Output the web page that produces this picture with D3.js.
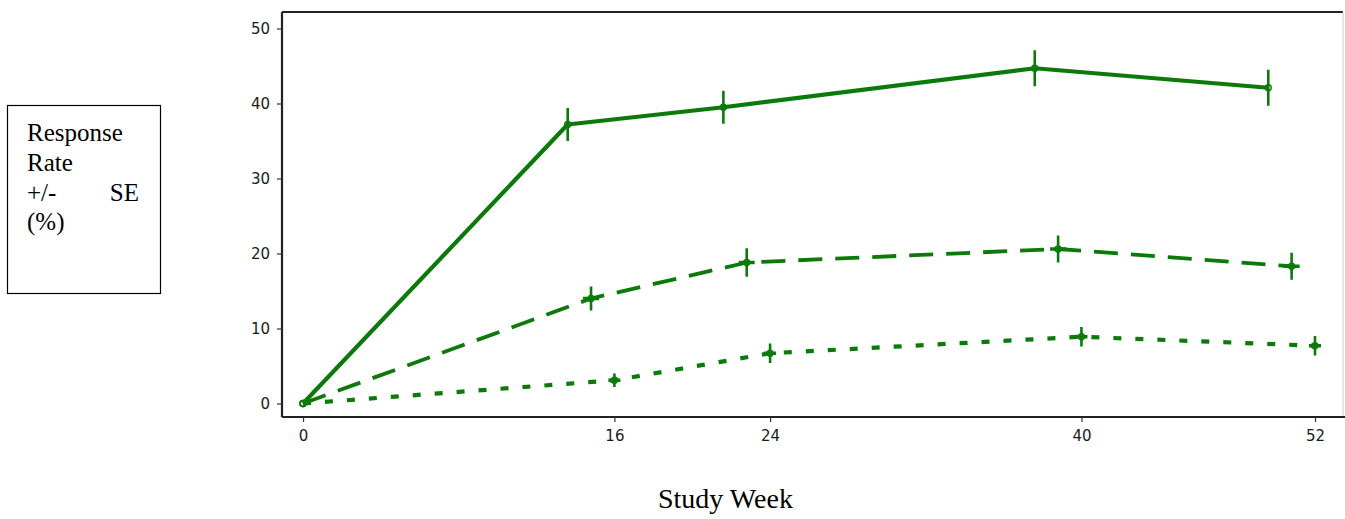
<!DOCTYPE html>
<html>
<head>
<meta charset="utf-8">
<script src="https://cdn.jsdelivr.net/npm/d3@7/dist/d3.min.js"></script>
<style>
  html, body { margin: 0; padding: 0; background: #fff; }
  svg { display: block; }
</style>
</head>
<body>
<svg id="chart" width="1345" height="519"></svg>
<script>
// ---- data ----
const xTicks = [0, 16, 24, 40, 52];
const yTicks = [0, 10, 20, 30, 40, 50];

const solidWeeks  = [0, 13.6, 21.6, 37.6, 49.6];
const solidRate   = [0, 37.2, 39.5, 44.7, 42.1];
const solidSE     = [0, 2.2, 2.2, 2.4, 2.4];

const dashedWeeks = [0, 14.8, 22.8, 38.8, 50.8];
const dashedRate  = [0, 14.0, 18.8, 20.6, 18.3];
const dashedSE    = [0, 1.6, 1.9, 1.8, 1.8];

const dottedWeeks = [0, 16, 24, 40, 52];
const dottedRate  = [0, 3.1, 6.7, 8.9, 7.7];
const dottedSE    = [0, 0.9, 1.3, 1.3, 1.3];

const legendLines = ["Response", "Rate", "+/-", "(%)"];
const xTitle = "Study Week";

// ---- layout ----
const svg = d3.select("#chart");
const L = 282, R = 1343, T = 12, B = 417;
const green = "#0b7a0b";

const x = d3.scaleLinear().domain([-1.08, 53.44]).range([L, R]);
const y = d3.scaleLinear().domain([-1.8, 52.2]).range([B, T]);

// frame: top + right
svg.append("line").attr("x1", L).attr("x2", R).attr("y1", T).attr("y2", T)
  .attr("stroke", "#222").attr("stroke-width", 2);
svg.append("line").attr("x1", R).attr("x2", R).attr("y1", T).attr("y2", B)
  .attr("stroke", "#ccc").attr("stroke-width", 1);

// axes
const yAxis = d3.axisLeft(y).tickValues(yTicks).tickSize(5).tickPadding(7).tickFormat(d3.format("d"));
const xAxis = d3.axisBottom(x).tickValues(xTicks).tickSize(5).tickPadding(8).tickFormat(d3.format("d"));

const gy = svg.append("g").attr("transform", `translate(${L},0)`).call(yAxis);
const gx = svg.append("g").attr("transform", `translate(0,${B})`).call(xAxis);
[gx, gy].forEach(g => {
  g.select(".domain").attr("stroke", "#222").attr("stroke-width", 2.2);
  g.selectAll(".tick line").attr("stroke", "#333").attr("stroke-width", 1.2);
  g.selectAll(".tick text").attr("fill", "#1a1a1a")
    .style("font-family", "'DejaVu Sans', sans-serif").style("font-size", "15px");
});
gy.select(".domain").attr("d", `M0,${T}V${B}`);
gx.select(".domain").attr("d", `M${L},0H1345`);

// series
const series = [
  { w: solidWeeks,  r: solidRate,  se: solidSE,  dash: null,    sw: 4.2, cap: 0 },
  { w: dashedWeeks, r: dashedRate, se: dashedSE, dash: "24,13", sw: 3.8, cap: 8 },
  { w: dottedWeeks, r: dottedRate, se: dottedSE, dash: "8,14",  sw: 4.2, cap: 6 }
];

const line = d3.line().x(d => x(d.w)).y(d => y(d.r));

series.forEach(s => {
  const pts = s.w.map((w, i) => ({ w, r: s.r[i], se: s.se[i] }));
  const p = svg.append("path").datum(pts).attr("d", line)
    .attr("fill", "none").attr("stroke", green).attr("stroke-width", s.sw)
    .attr("stroke-linejoin", "round");
  if (s.dash) p.attr("stroke-dasharray", s.dash);

  const g = svg.append("g");
  const err = pts.filter(d => d.se > 0);
  g.selectAll(".eb").data(err).join("line")
    .attr("x1", d => x(d.w)).attr("x2", d => x(d.w))
    .attr("y1", d => y(d.r + d.se)).attr("y2", d => y(d.r - d.se))
    .attr("stroke", green).attr("stroke-width", 2.6);
  if (s.cap > 0) {
    g.selectAll(".cb").data(err).join("line")
      .attr("x1", d => x(d.w) - s.cap).attr("x2", d => x(d.w) + s.cap)
      .attr("y1", d => y(d.r)).attr("y2", d => y(d.r))
      .attr("stroke", green).attr("stroke-width", 3.5);
  }
  g.selectAll(".pt").data(pts).join("circle")
    .attr("cx", d => x(d.w)).attr("cy", d => y(d.r)).attr("r", 3)
    .attr("fill", "none").attr("stroke", green).attr("stroke-width", 1.4);
});

// legend-like box on the left
svg.append("rect").attr("x", 7.5).attr("y", 105.5).attr("width", 153).attr("height", 188)
  .attr("fill", "#fff").attr("stroke", "#000").attr("stroke-width", 1.2);
const lt = svg.append("g").style("font-family", "'Liberation Serif', 'Times New Roman', serif")
  .style("font-size", "25px").attr("fill", "#000");
const baselines = [141, 171, 201, 230];
legendLines.forEach((t, i) => {
  lt.append("text").attr("x", 27).attr("y", baselines[i]).text(t);
});
lt.append("text").attr("x", 139).attr("y", baselines[2]).attr("text-anchor", "end").text("SE");

// x title
svg.append("text").attr("x", 658).attr("y", 508)
  .style("font-family", "'Liberation Serif', 'Times New Roman', serif")
  .style("font-size", "28px").attr("fill", "#000").text(xTitle);
</script>
</body>
</html>
